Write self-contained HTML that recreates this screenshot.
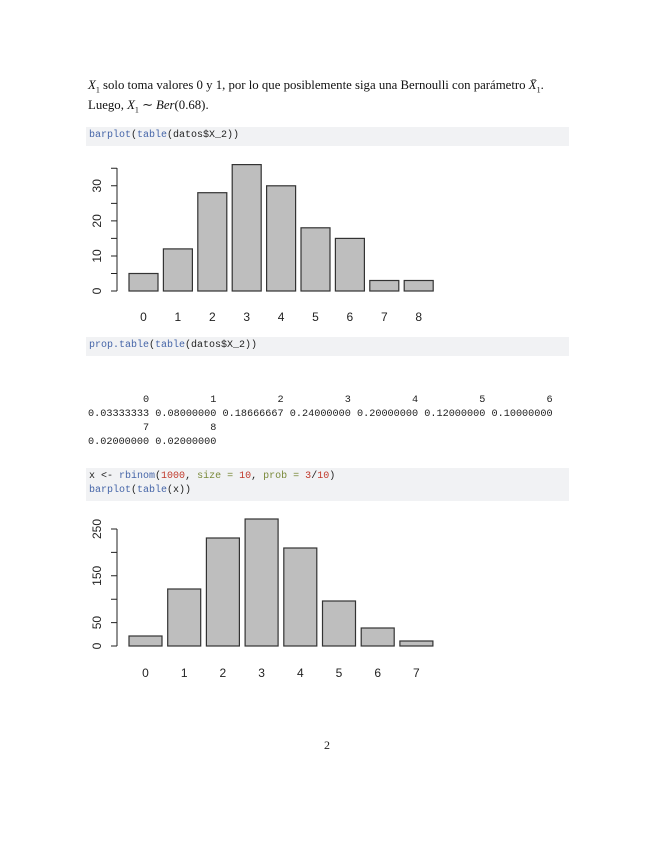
<!DOCTYPE html>
<html><head><meta charset="utf-8"><style>
body{margin:0;width:655px;height:848px;background:#fff;position:relative;overflow:hidden}
.t{position:absolute;font-family:"Liberation Serif",serif;font-size:12.8px;color:#111;white-space:nowrap}
.box{position:absolute;left:86px;width:483px;background:#f1f2f4}
.c{position:absolute;font-family:"Liberation Mono",monospace;font-size:10px;color:#222;white-space:pre;line-height:14px}
.o{font-size:10.2px}
.f{color:#4565a8}.n{color:#c0392b}.a{color:#7a8a3a}
svg{position:absolute;left:0;top:0}
</style></head><body>
<div class="t" style="left:88px;top:78px"><i>X</i><sub style="font-size:8px">1</sub> solo toma valores 0 y 1, por lo que posiblemente siga una Bernoulli con parámetro <i>X̄</i><sub style="font-size:8px">1</sub>.</div>
<div class="t" style="left:88px;top:98px">Luego, <i>X</i><sub style="font-size:8px">1</sub> ∼ <i>Ber</i>(0.68).</div>
<div class="box" style="top:127px;height:19px"></div>
<div class="c" style="left:89px;top:129px"><span class="f">barplot</span>(<span class="f">table</span>(datos$X_2))</div>
<div class="box" style="top:337px;height:19px"></div>
<div class="c" style="left:89px;top:339px"><span class="f">prop.table</span>(<span class="f">table</span>(datos$X_2))</div>
<div class="c o" style="left:88px;top:394px">         0          1          2          3          4          5          6
0.03333333 0.08000000 0.18666667 0.24000000 0.20000000 0.12000000 0.10000000
         7          8
0.02000000 0.02000000</div>
<div class="box" style="top:468px;height:33px"></div>
<div class="c" style="left:89px;top:470px">x &lt;- <span class="f">rbinom</span>(<span class="n">1000</span>, <span class="a">size =</span> <span class="n">10</span>, <span class="a">prob =</span> <span class="n">3</span>/<span class="n">10</span>)
<span class="f">barplot</span>(<span class="f">table</span>(x))</div>
<svg width="655" height="848" font-family="Liberation Sans, sans-serif" font-size="12" fill="#222">
<g stroke="#222" stroke-width="1" fill="none">
<path d="M117 291V168M117 291h-6M117 273.5h-6M117 256h-6M117 238.4h-6M117 220.9h-6M117 203.4h-6M117 185.8h-6M117 168.3h-6"/>
</g>
<g font-size="12" text-anchor="middle">
<text transform="translate(97,291) rotate(-90)" dy="4">0</text>
<text transform="translate(97,256) rotate(-90)" dy="4">10</text>
<text transform="translate(97,220.9) rotate(-90)" dy="4">20</text>
<text transform="translate(97,185.8) rotate(-90)" dy="4">30</text>
</g>
<g fill="#bebebe" stroke="#333" stroke-width="1.2">
<rect x="129" y="273.5" width="29" height="17.5"/>
<rect x="163.4" y="248.9" width="29" height="42.1"/>
<rect x="197.8" y="192.7" width="29" height="98.3"/>
<rect x="232.2" y="164.6" width="29" height="126.4"/>
<rect x="266.6" y="185.8" width="29" height="105.2"/>
<rect x="301" y="227.8" width="29" height="63.2"/>
<rect x="335.4" y="238.4" width="29" height="52.6"/>
<rect x="369.8" y="280.5" width="29" height="10.5"/>
<rect x="404.2" y="280.5" width="29" height="10.5"/>
</g>
<g text-anchor="middle">
<text x="143.5" y="321">0</text><text x="177.9" y="321">1</text><text x="212.3" y="321">2</text><text x="246.7" y="321">3</text><text x="281.1" y="321">4</text><text x="315.5" y="321">5</text><text x="349.9" y="321">6</text><text x="384.3" y="321">7</text><text x="418.7" y="321">8</text>
</g>
<g stroke="#222" stroke-width="1" fill="none">
<path d="M117 646V529M117 646h-6M117 622.6h-6M117 599.2h-6M117 575.8h-6M117 552.4h-6M117 529h-6"/>
</g>
<g text-anchor="middle">
<text transform="translate(97,646) rotate(-90)" dy="4">0</text>
<text transform="translate(97,622.6) rotate(-90)" dy="4">50</text>
<text transform="translate(97,575.8) rotate(-90)" dy="4">150</text>
<text transform="translate(97,529) rotate(-90)" dy="4">250</text>
</g>
<g fill="#bebebe" stroke="#333" stroke-width="1.2">
<rect x="129" y="636" width="33" height="10"/>
<rect x="167.7" y="589" width="33" height="57"/>
<rect x="206.4" y="538" width="33" height="108"/>
<rect x="245.1" y="519" width="33" height="127"/>
<rect x="283.8" y="548" width="33" height="98"/>
<rect x="322.5" y="601" width="33" height="45"/>
<rect x="361.2" y="628" width="33" height="18"/>
<rect x="399.9" y="641" width="33" height="5"/>
</g>
<g text-anchor="middle">
<text x="145.5" y="677">0</text><text x="184.2" y="677">1</text><text x="222.9" y="677">2</text><text x="261.6" y="677">3</text><text x="300.3" y="677">4</text><text x="339" y="677">5</text><text x="377.7" y="677">6</text><text x="416.4" y="677">7</text>
</g>
<text x="327" y="749" text-anchor="middle" font-family="Liberation Serif, serif" font-size="12">2</text>
</svg>
</body></html>
